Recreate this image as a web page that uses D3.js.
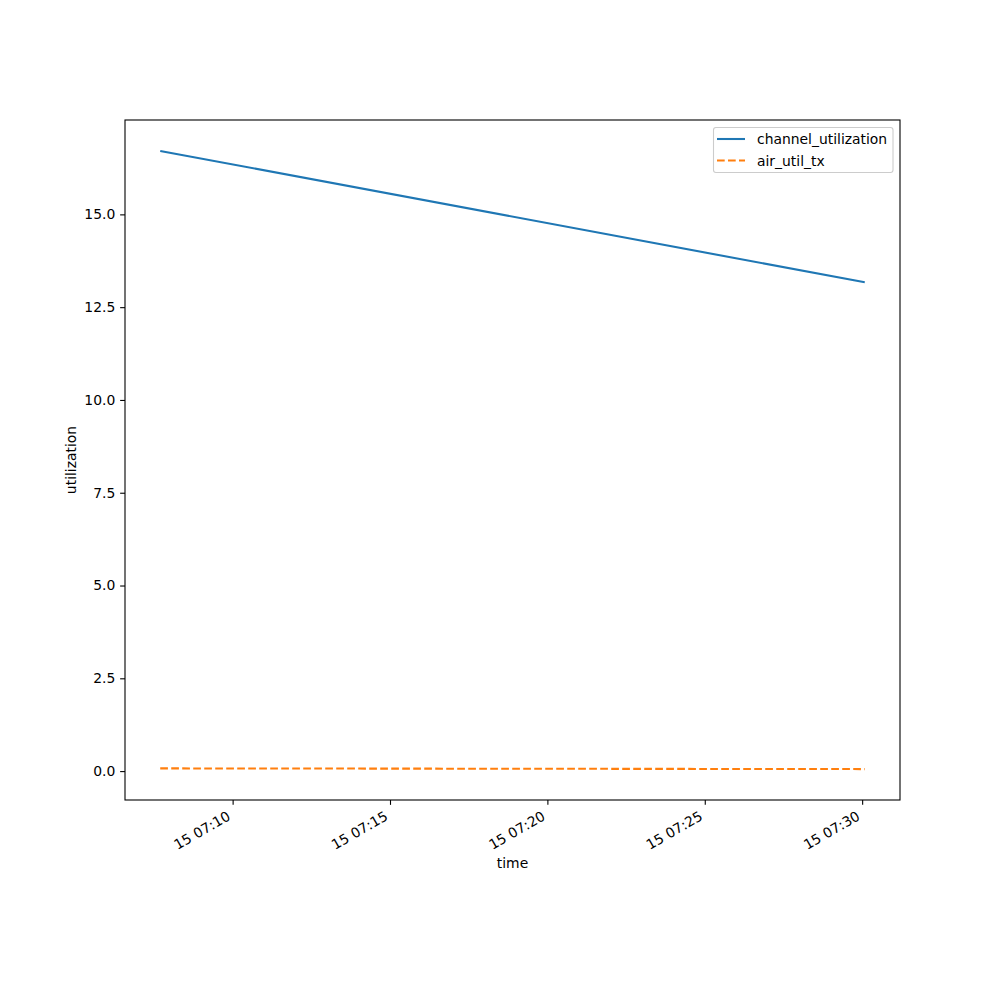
<!DOCTYPE html>
<html lang="en">
<head>
    <meta charset="UTF-8">
    <title>utilization</title>
    <script src="https://d3js.org/d3.v7.min.js"></script>
    <style>
        body { margin: 0; background: #ffffff; }
        svg { display: block; }
        text { font-family: "DejaVu Sans", sans-serif; fill: #000; }
        .axis text { font-size: 13.9px; }
        .axis path, .axis line { stroke: #000; stroke-width: 1.1; }
    </style>
</head>
<body>
    <svg width="1000" height="1000"></svg>

    <script>
        // Datos
        const times = [
            new Date(Date.UTC(2024, 0, 15, 7, 7, 42)),
            new Date(Date.UTC(2024, 0, 15, 7, 30, 5))
        ];
        const channelUtilization = [16.71, 13.17];
        const airUtilTx = [0.073, 0.054];
        const yTicks = [0, 2.5, 5, 7.5, 10, 12.5, 15];
        const seriesNames = ["channel_utilization", "air_util_tx"];

        const plotLeft = 125, plotRight = 900, plotTop = 120, plotBottom = 800;

        const svg = d3.select("svg");

        // margenes 5% como matplotlib
        const t0 = times[0].getTime(), t1 = times[times.length - 1].getTime();
        const tPad = (t1 - t0) * 0.05;
        const x = d3.scaleUtc()
            .domain([new Date(t0 - tPad), new Date(t1 + tPad)])
            .range([plotLeft, plotRight]);

        const allVals = channelUtilization.concat(airUtilTx);
        const yMin = d3.min(allVals), yMax = d3.max(allVals);
        const yPad = (yMax - yMin) * 0.05;
        const y = d3.scaleLinear()
            .domain([yMin - yPad, yMax + yPad])
            .range([plotBottom, plotTop]);

        const series = [
            { name: seriesNames[0], values: channelUtilization, color: "#1f77b4", dash: null },
            { name: seriesNames[1], values: airUtilTx, color: "#ff7f0e", dash: "7.7,3.3" }
        ];

        const line = d3.line()
            .x((d, i) => x(times[i]))
            .y(d => y(d));

        svg.selectAll("path.series")
            .data(series)
            .enter()
            .append("path")
            .attr("class", "series")
            .attr("d", d => line(d.values))
            .attr("fill", "none")
            .attr("stroke", d => d.color)
            .attr("stroke-width", 2.08)
            .attr("stroke-dasharray", d => d.dash);

        // eje x
        const xAxis = svg.append("g")
            .attr("class", "axis")
            .attr("transform", `translate(0,${plotBottom})`)
            .call(d3.axisBottom(x)
                .ticks(d3.utcMinute.every(5))
                .tickFormat(d3.utcFormat("%d %H:%M"))
                .tickSize(4.86)
                .tickSizeOuter(0));
        xAxis.select(".domain").remove();
        xAxis.selectAll("text")
            .attr("text-anchor", "end")
            .attr("dy", null)
            .attr("y", 0)
            .attr("transform", "translate(-1.7,19) rotate(-30)");

        // eje y
        const yAxis = svg.append("g")
            .attr("class", "axis")
            .attr("transform", `translate(${plotLeft},0)`)
            .call(d3.axisLeft(y)
                .tickValues(yTicks)
                .tickFormat(d3.format(".1f"))
                .tickSize(4.86)
                .tickPadding(4.86)
                .tickSizeOuter(0));
        yAxis.select(".domain").remove();

        // marco
        svg.append("rect")
            .attr("x", plotLeft)
            .attr("y", plotTop)
            .attr("width", plotRight - plotLeft)
            .attr("height", plotBottom - plotTop)
            .attr("fill", "none")
            .attr("stroke", "#000")
            .attr("stroke-width", 1.1);

        // etiquetas
        svg.append("text")
            .attr("x", (plotLeft + plotRight) / 2)
            .attr("y", 868)
            .attr("text-anchor", "middle")
            .style("font-size", "13.9px")
            .text("time");

        svg.append("text")
            .attr("transform", `translate(76,${(plotTop + plotBottom) / 2}) rotate(-90)`)
            .attr("text-anchor", "middle")
            .style("font-size", "13.9px")
            .text("utilization");

        // leyenda
        const legend = svg.append("g");
        legend.append("rect")
            .attr("x", 713.5)
            .attr("y", 127.5)
            .attr("width", 179.5)
            .attr("height", 45)
            .attr("rx", 2.5)
            .attr("fill", "#ffffff")
            .attr("fill-opacity", 0.8)
            .attr("stroke", "#cccccc")
            .attr("stroke-width", 1.1);

        const items = legend.selectAll("g.item")
            .data(series)
            .enter()
            .append("g")
            .attr("class", "item")
            .attr("transform", (d, i) => `translate(0,${139 + i * 21.5})`);

        items.append("line")
            .attr("x1", 717)
            .attr("x2", 745)
            .attr("stroke", d => d.color)
            .attr("stroke-width", 2.08)
            .attr("stroke-dasharray", d => d.dash);

        items.append("text")
            .attr("x", 757)
            .attr("y", 5)
            .style("font-size", "13.9px")
            .text(d => d.name);
    </script>
</body>
</html>
